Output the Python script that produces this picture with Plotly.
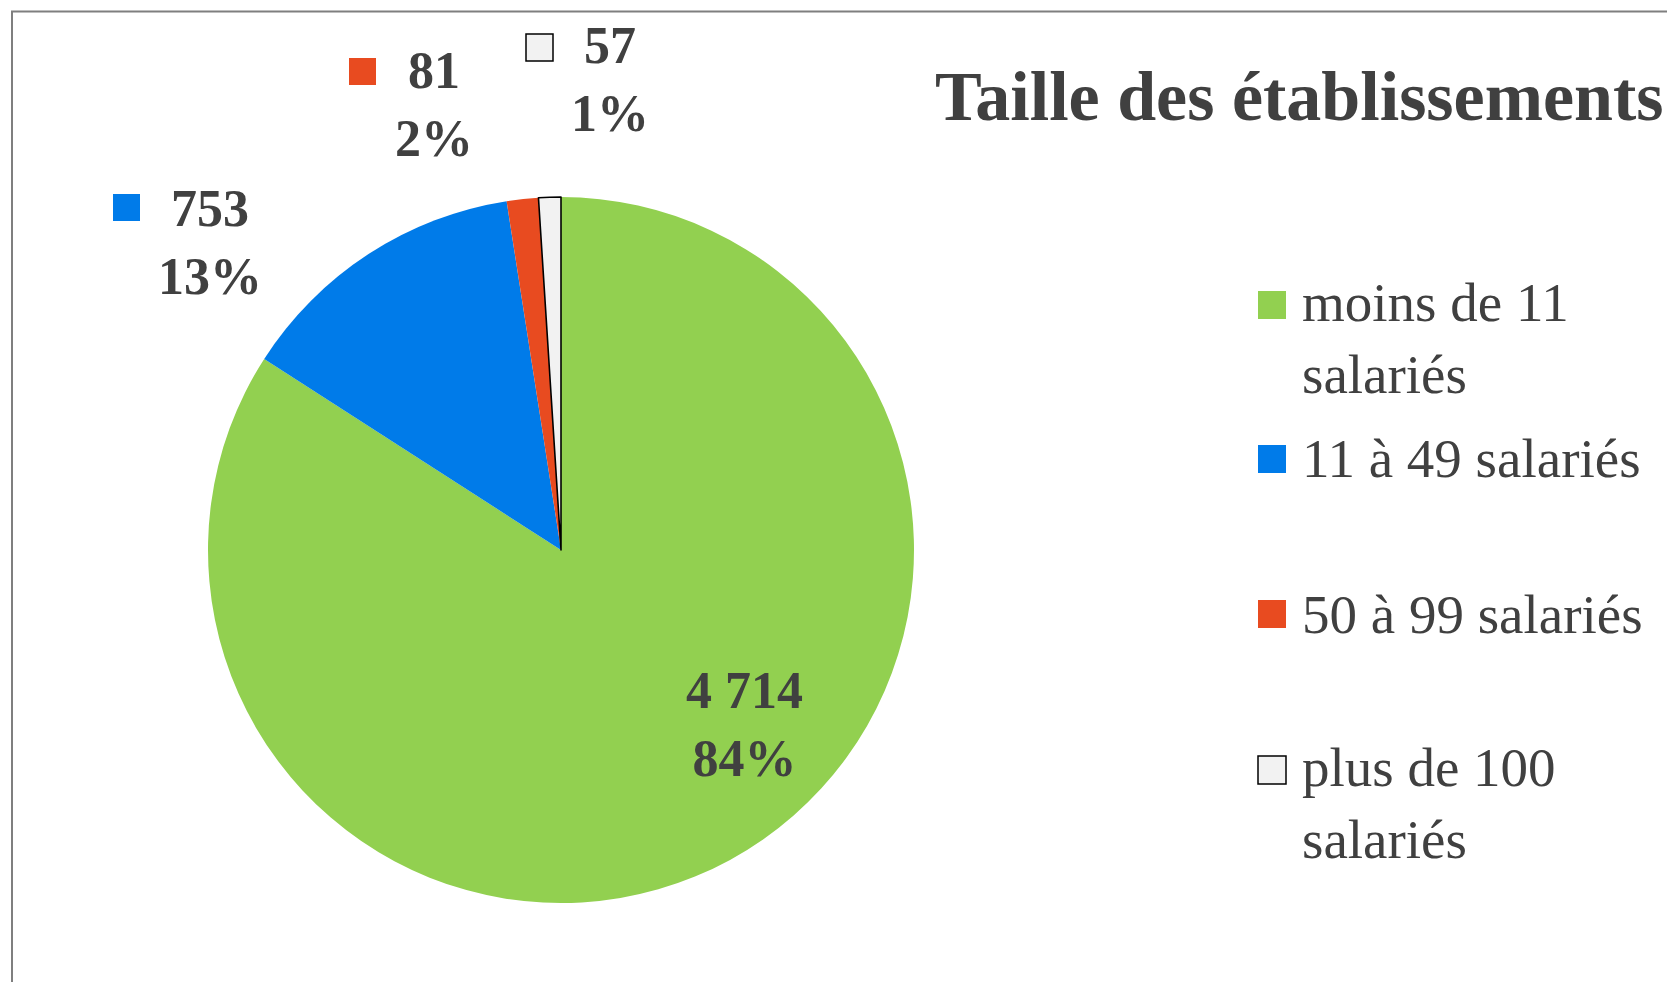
import plotly.graph_objects as go

# ---- data ----
categories = ["moins de 11 salariés", "11 à 49 salariés", "50 à 99 salariés", "plus de 100 salariés"]
legend_labels = ["moins de 11<br>salariés", "11 à 49 salariés", "50 à 99 salariés", "plus de 100<br>salariés"]
values = [4714, 753, 81, 57]
value_labels = ["4 714", "753", "81", "57"]
pct_labels = ["84%", "13%", "2%", "1%"]
colors = ["#92D050", "#007BE9", "#E84B20", "#F2F2F2"]
title_text = "Taille des établissements"

W, H = 1667, 982
TXT = "#404040"
FONT = "Liberation Serif"


def px(x):
    return x / W


def py(y):
    return 1 - y / H


# pie geometry (pixels from top-left)
cx, cy, r = 561, 550, 353

fig = go.Figure(
    go.Pie(
        labels=categories,
        values=values,
        sort=False,
        direction="clockwise",
        rotation=0,
        textinfo="none",
        hoverinfo="label+value+percent",
        marker=dict(colors=colors, line=dict(color=["rgba(0,0,0,0)"] * 3 + ["#000000"], width=[0, 0, 0, 1.6])),
        domain=dict(x=[px(cx - r), px(cx + r)], y=[py(cy + r), py(cy - r)]),
        showlegend=False,
    )
)

shapes = []
annotations = []

# chart border (cropped on right/bottom)
shapes.append(dict(type="rect", xref="paper", yref="paper", x0=px(12), x1=1.02, y0=-0.02, y1=py(11.5),
                   line=dict(color="#7F7F7F", width=2), fillcolor="rgba(0,0,0,0)", layer="below"))

# data labels (position in px: label center, square left/top)
label_pos = [
    dict(x=744, y=724, sq=None),
    dict(x=210, y=242, sq=(113, 194)),
    dict(x=434, y=104, sq=(349, 58)),
    dict(x=610, y=80, sq=(526, 34)),
]
SQ = 27
for i, lp in enumerate(label_pos):
    annotations.append(dict(
        x=px(lp["x"]), y=py(lp["y"]), xref="paper", yref="paper", showarrow=False,
        text=f"<b>{value_labels[i]}<br>{pct_labels[i]}</b>", align="center",
        xanchor="center", yanchor="middle", font=dict(family=FONT, size=52, color=TXT),
    ))
    if lp["sq"] is not None:
        x0, y0 = lp["sq"]
        shapes.append(dict(type="rect", xref="paper", yref="paper",
                           x0=px(x0), x1=px(x0 + SQ), y0=py(y0 + SQ), y1=py(y0),
                           fillcolor=colors[i],
                           line=dict(color="#000000" if i == 3 else colors[i], width=1.5 if i == 3 else 0)))

# legend (custom, to match spacing)
leg_sq_x = 1258
leg_text_x = 1300
leg_first_line_y = [305, 459, 614, 770]
leg_block_y = [338, 459, 614, 803]
LSQ = 28
for i in range(4):
    yc = leg_first_line_y[i]
    shapes.append(dict(type="rect", xref="paper", yref="paper",
                       x0=px(leg_sq_x), x1=px(leg_sq_x + LSQ), y0=py(yc + LSQ / 2), y1=py(yc - LSQ / 2),
                       fillcolor=colors[i],
                       line=dict(color="#000000" if i == 3 else colors[i], width=1.5 if i == 3 else 0)))
    annotations.append(dict(
        x=px(leg_text_x), y=py(leg_block_y[i]), xref="paper", yref="paper", showarrow=False,
        text=legend_labels[i], align="left", xanchor="left", yanchor="middle",
        font=dict(family=FONT, size=55, color=TXT),
    ))

# title
annotations.append(dict(
    x=px(933), y=py(96), xref="paper", yref="paper", showarrow=False,
    text=f"<b>{title_text}</b>", xanchor="left", yanchor="middle",
    font=dict(family=FONT, size=70, color=TXT),
))

fig.update_layout(
    width=W, height=H,
    margin=dict(l=0, r=0, t=0, b=0),
    paper_bgcolor="white", plot_bgcolor="white",
    shapes=shapes, annotations=annotations,
    font=dict(family=FONT, color=TXT),
)

fig.write_html("out.html", config={"displayModeBar": False},
               post_script="document.body.style.margin='0';document.body.style.overflow='hidden';")
